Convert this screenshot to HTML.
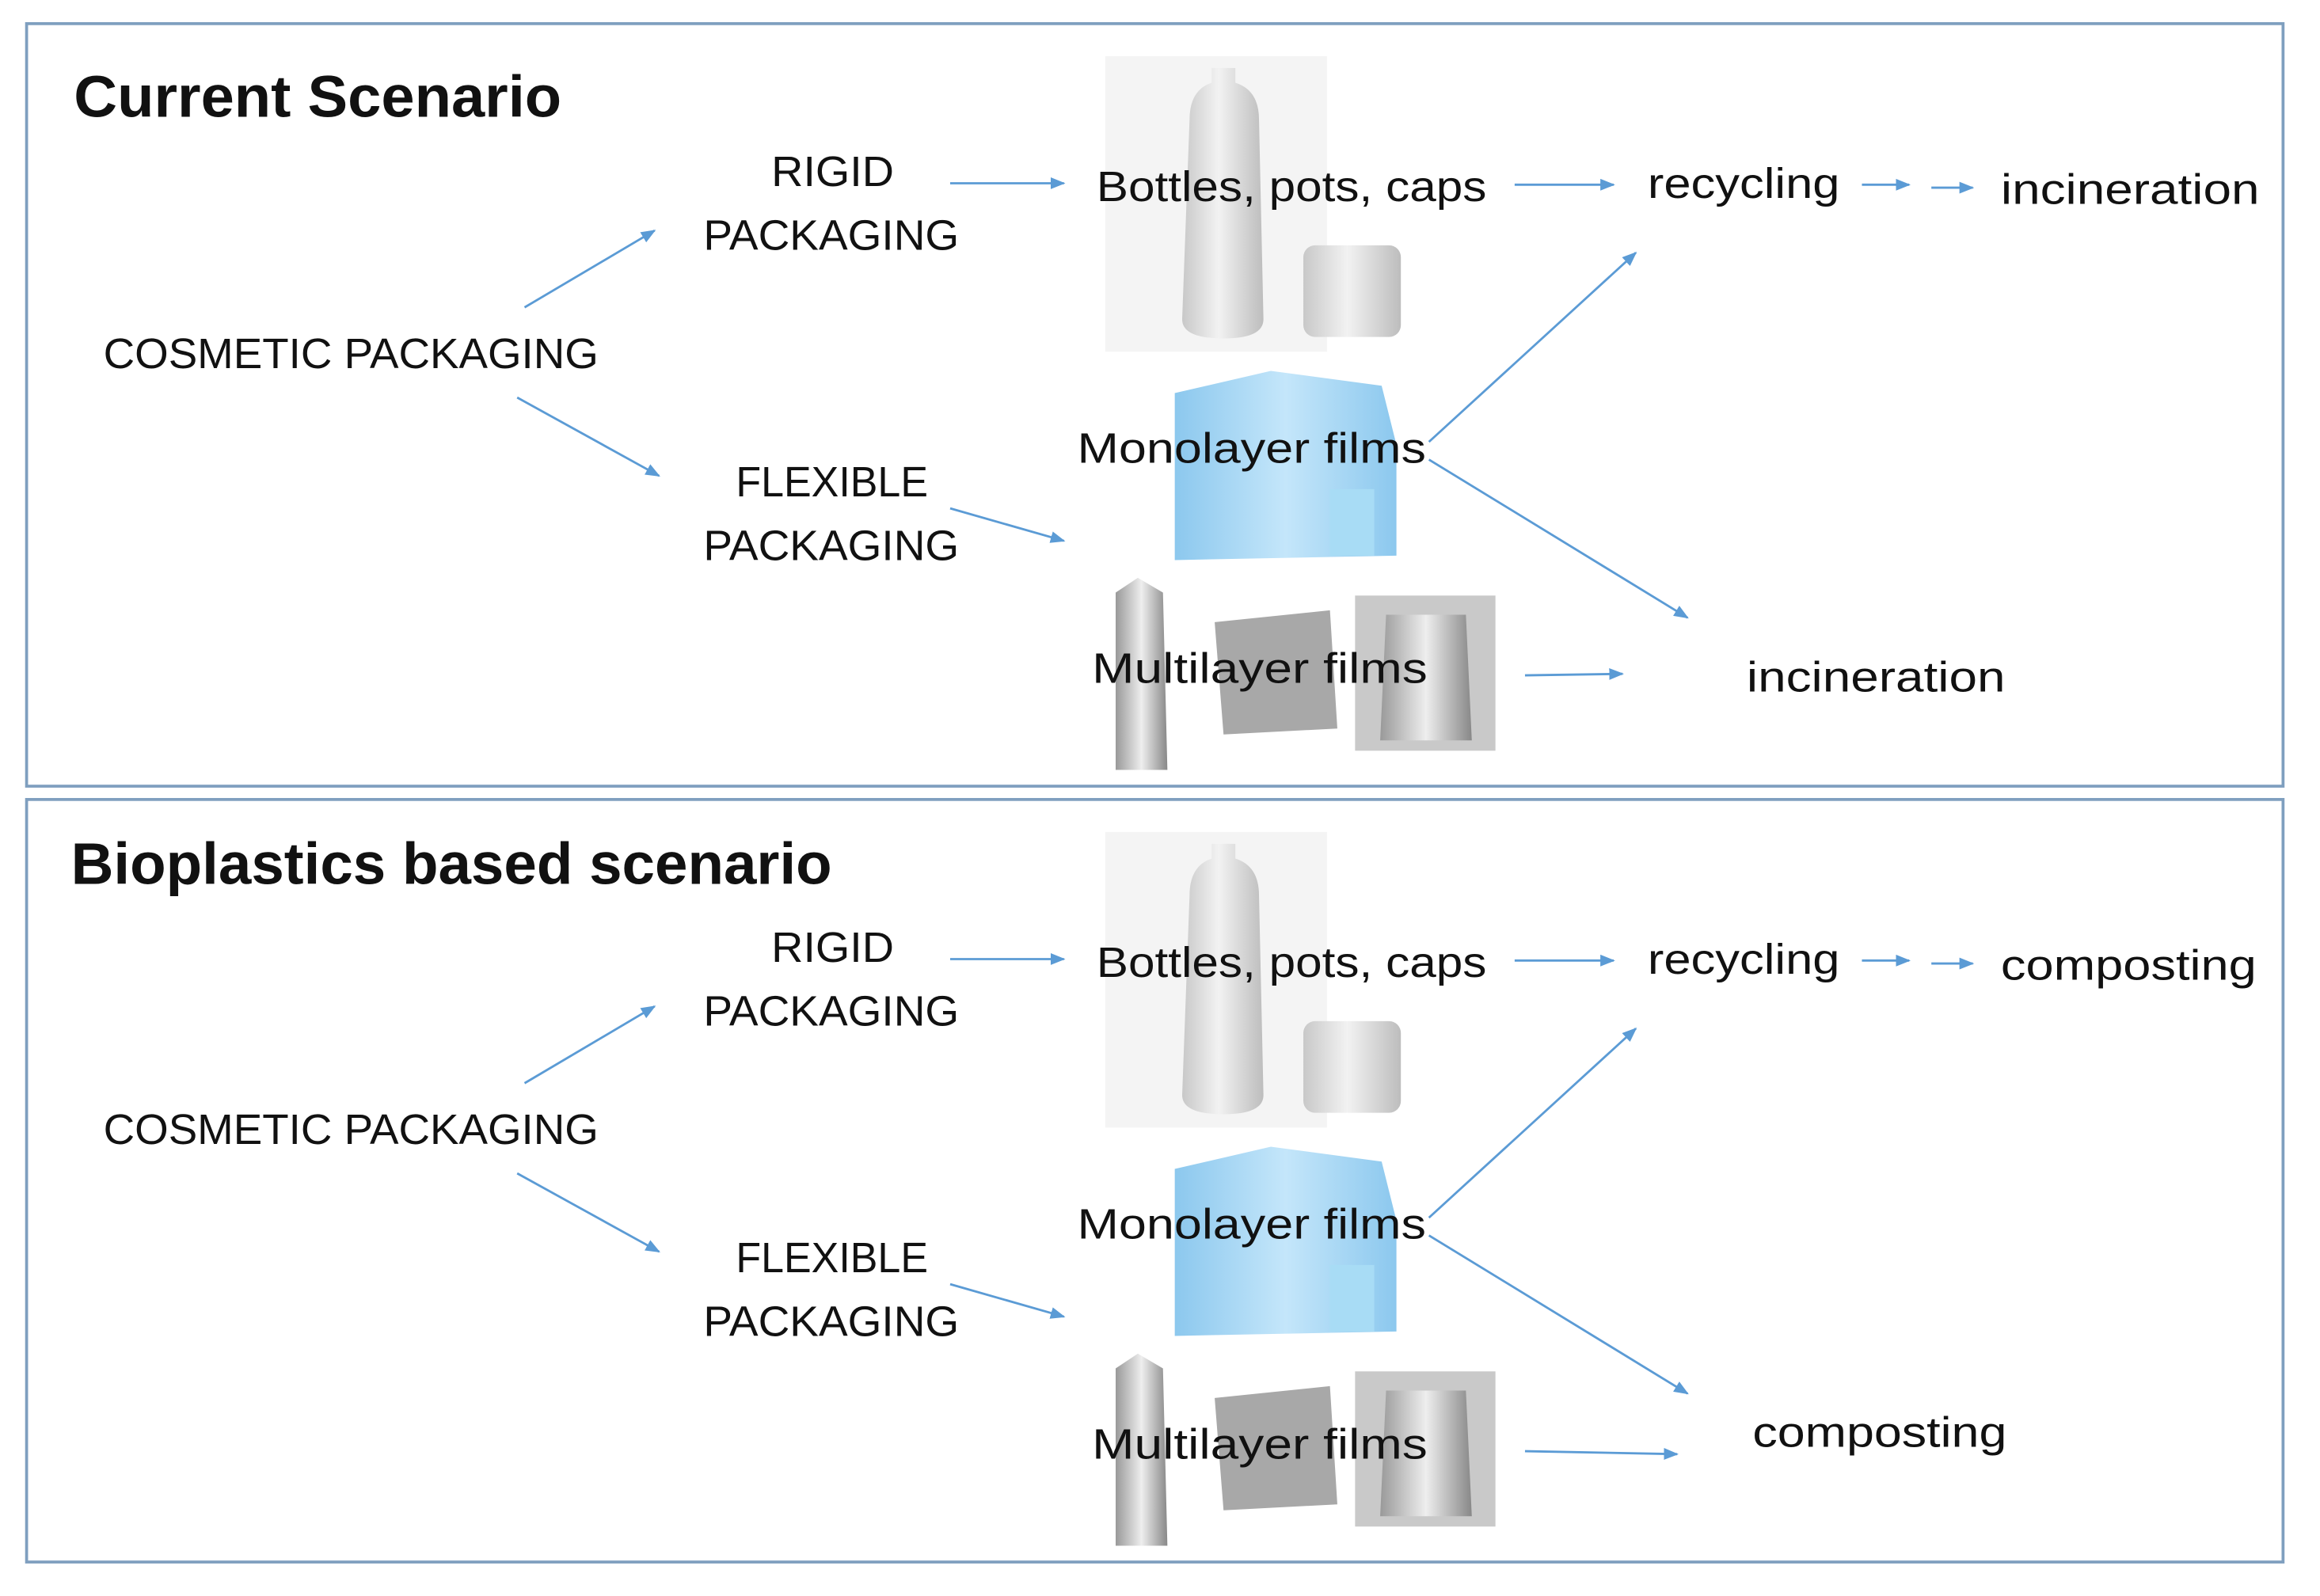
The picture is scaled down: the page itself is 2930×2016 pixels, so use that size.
<!DOCTYPE html>
<html><head><meta charset="utf-8"><style>
html,body{margin:0;padding:0;background:#fff;}
svg{display:block;}
text{font-family:"Liberation Sans",sans-serif;fill:#111;}
</style></head><body>
<svg width="2930" height="2016" viewBox="0 -1 1570 1080" preserveAspectRatio="none" xmlns="http://www.w3.org/2000/svg">
<defs>
<marker id="a" markerWidth="10" markerHeight="8" refX="9" refY="4" orient="auto" markerUnits="userSpaceOnUse">
<path d="M0,0 L10,4 L0,8 z" fill="#5b9bd5"/></marker>
<linearGradient id="bot" x1="0" x2="1"><stop offset="0" stop-color="#c8c8c8"/><stop offset="0.45" stop-color="#f2f2f2"/><stop offset="1" stop-color="#bdbdbd"/></linearGradient>
<linearGradient id="blu" x1="0" x2="1"><stop offset="0" stop-color="#8cc8ee"/><stop offset="0.5" stop-color="#c4e6fa"/><stop offset="1" stop-color="#8cc8ee"/></linearGradient>
<linearGradient id="sil" x1="0" x2="1"><stop offset="0" stop-color="#999"/><stop offset="0.5" stop-color="#eee"/><stop offset="1" stop-color="#888"/></linearGradient>
<g id="panel">
<rect x="748" y="37" width="150" height="200" fill="#f4f4f4"/>
<path d="M805,80 Q805,60 820,55 L820,45 L836,45 L836,55 Q852,60 852,80 L855,215 Q855,228 828,228 Q800,228 800,215 z" fill="url(#bot)"/>
<rect x="882" y="165" width="66" height="62" rx="8" fill="url(#bot)"/>
<path d="M795,265 L860,250 L935,260 L945,300 L945,375 L795,378 z" fill="url(#blu)"/>
<rect x="900" y="330" width="30" height="45" fill="#a8dcf5"/>
<path d="M755,400 L770,390 L787,400 L790,520 L755,520 z" fill="url(#sil)"/>
<path d="M822,420 L900,412 L905,492 L828,496 z" fill="#a8a8a8"/>
<rect x="917" y="402" width="95" height="105" fill="#c9c9c9"/>
<path d="M938,415 L992,415 L996,500 L934,500 z" fill="url(#sil)"/>
<line x1="355" y1="207" x2="443" y2="155" stroke="#5b9bd5" stroke-width="1.5" marker-end="url(#a)"/>
<line x1="350" y1="268" x2="446" y2="321" stroke="#5b9bd5" stroke-width="1.5" marker-end="url(#a)"/>
<line x1="643" y1="123" x2="720" y2="123" stroke="#5b9bd5" stroke-width="1.5" marker-end="url(#a)"/>
<line x1="643" y1="343" x2="720" y2="365" stroke="#5b9bd5" stroke-width="1.5" marker-end="url(#a)"/>
<line x1="1025" y1="124" x2="1092" y2="124" stroke="#5b9bd5" stroke-width="1.5" marker-end="url(#a)"/>
<line x1="1260" y1="124" x2="1292" y2="124" stroke="#5b9bd5" stroke-width="1.5" marker-end="url(#a)"/>
<line x1="1307" y1="126" x2="1335" y2="126" stroke="#5b9bd5" stroke-width="1.5" marker-end="url(#a)"/>
<line x1="967" y1="298" x2="1107" y2="170" stroke="#5b9bd5" stroke-width="1.5" marker-end="url(#a)"/>
<line x1="967" y1="310" x2="1142" y2="417" stroke="#5b9bd5" stroke-width="1.5" marker-end="url(#a)"/>
<g font-size="29">
<text x="522" y="125" textLength="83" lengthAdjust="spacingAndGlyphs">RIGID</text>
<text x="476" y="168" textLength="173" lengthAdjust="spacingAndGlyphs">PACKAGING</text>
<text x="70" y="248" textLength="335" lengthAdjust="spacingAndGlyphs">COSMETIC PACKAGING</text>
<text x="498" y="335" textLength="130" lengthAdjust="spacingAndGlyphs">FLEXIBLE</text>
<text x="476" y="378" textLength="173" lengthAdjust="spacingAndGlyphs">PACKAGING</text>
<text x="742" y="135" textLength="264" lengthAdjust="spacingAndGlyphs">Bottles, pots, caps</text>
<text x="1115" y="133" textLength="130" lengthAdjust="spacingAndGlyphs">recycling</text>
<text x="729" y="312" textLength="236" lengthAdjust="spacingAndGlyphs">Monolayer films</text>
<text x="739" y="461" textLength="227" lengthAdjust="spacingAndGlyphs">Multilayer films</text>
</g>
</g>
</defs>
<rect x="18" y="15" width="1527" height="516" fill="none" stroke="#7f9fbf" stroke-width="2"/>
<rect x="18" y="540" width="1527" height="516" fill="none" stroke="#7f9fbf" stroke-width="2"/>
<use href="#panel"/>
<use href="#panel" transform="translate(0,525)"/>
<text x="50" y="78" font-size="40" font-weight="bold" textLength="330" lengthAdjust="spacingAndGlyphs">Current Scenario</text>
<text x="48" y="597" font-size="40" font-weight="bold" textLength="515" lengthAdjust="spacingAndGlyphs">Bioplastics based scenario</text>
<g font-size="29">
<text x="1354" y="137" textLength="175" lengthAdjust="spacingAndGlyphs">incineration</text>
<text x="1182" y="467" textLength="175" lengthAdjust="spacingAndGlyphs">incineration</text>
<text x="1354" y="662" textLength="173" lengthAdjust="spacingAndGlyphs">composting</text>
<text x="1186" y="978" textLength="172" lengthAdjust="spacingAndGlyphs">composting</text>
</g>
<line x1="1032" y1="456" x2="1098" y2="455" stroke="#5b9bd5" stroke-width="1.5" marker-end="url(#a)"/>
<line x1="1032" y1="981" x2="1135" y2="983" stroke="#5b9bd5" stroke-width="1.5" marker-end="url(#a)"/>
</svg>
</body></html>
